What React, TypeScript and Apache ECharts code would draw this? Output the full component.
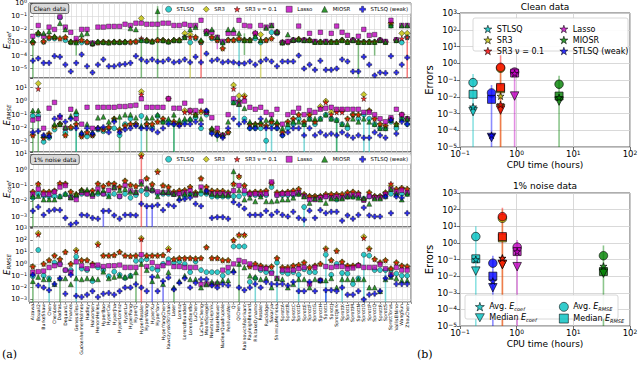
import React, { useEffect, useRef } from 'react';
import * as echarts from 'echarts';

const FONT = 'DejaVu Sans';

const systems = [
  'Aizawa', 'Bouali2', 'BurkeShaw', 'Chen', 'ChenLee', 'Dadras', 'DequanLi', 'Finance', 'GenesioTesi',
  'GuckenheimerHolmes', 'Hadley', 'Halvorsen', 'HenonHeiles', 'HyperBao', 'HyperCai', 'HyperJha',
  'HyperLorenz', 'HyperLu', 'HyperPang', 'HyperQi', 'HyperRossler', 'HyperWang', 'HyperXu', 'HyperYan',
  'HyperYangChen', 'KawczynskiStrizhak', 'Laser', 'Lorenz', 'LorenzBounded', 'LorenzStenflo', 'LuChen',
  'LuChenCheng', 'MooreSpiegel', 'NewtonLiepnik', 'NoseHoover', 'NuclearQuadrupole', 'PehlivanWei', 'Qi',
  'QiChen', 'RabinovichFabrikant', 'RayleighBenard', 'RikitakeDynamo', 'Rossler', 'Rucklidge', 'Sakarya',
  'ShimizuMorioka', 'SprottA', 'SprottB', 'SprottC', 'SprottD', 'SprottE', 'SprottF', 'SprottG', 'SprottH',
  'SprottI', 'SprottJ', 'SprottJerk', 'SprottK', 'SprottL', 'SprottM', 'SprottN', 'SprottO', 'SprottP',
  'SprottQ', 'SprottR', 'SprottS', 'SprottTorus', 'VallisElNino', 'WangSun', 'ZhouChen',
];

const methods = ['STLSQ', 'SR3', 'SR3 ν = 0.1', 'Lasso', 'MIOSR', 'STLSQ (weak)'];

// columns: STLSQ, SR3, SR3 nu=0.1, Lasso, MIOSR, STLSQ (weak)
const cleanCoef = [
  [1e-3, 1e-3, 1e-3, 3e-3, 1.5e-3, 4e-5], [4e-3, 5e-3, 5e-3, 0.02, 6e-3, 6e-5], [1.1e-3, 1.2e-3, 1.2e-3, 3e-3, 5e-3, 2.7e-5],
  [2e-3, 2.5e-3, 2.5e-3, 0.015, 7e-3, 2.7e-5], [2e-3, 2.5e-3, 2.5e-3, 0.01, 3e-3, 9e-5], [0.08, 2e-3, 2e-3, 0.09, 0.03, 8e-5],
  [1.5e-3, 2.5e-3, 2.5e-3, 0.015, 0.01, 2e-5], [1e-3, 1.1e-3, 1.1e-3, 6e-3, 1.2e-3, 6e-6], [1.1e-3, 1.2e-3, 1.2e-3, 2e-3, 1e-3, 2.7e-5],
  [1e-3, 1.5e-3, 1.5e-3, 0.01, 4e-3, 1.2e-4], [1e-3, 1.1e-3, 1.1e-3, 0.01, 5e-3, 1.5e-5], [8e-4, 8e-4, 8e-4, 9e-4, 9e-4, 5e-6],
  [1e-3, 1e-3, 1e-3, 0.015, 1.2e-3, 2e-5], [1e-3, 1.1e-3, 1.1e-3, 0.015, 1.1e-3, 5e-5], [1e-3, 1e-3, 1e-3, 0.017, 1e-3, 1.5e-5],
  [1e-3, 1.1e-3, 1.1e-3, 0.017, 1.2e-3, 1.5e-5], [1e-3, 1.1e-3, 1.1e-3, 0.017, 1.1e-3, 2e-5], [1e-3, 1.1e-3, 1.1e-3, 0.025, 1.2e-3, 2.2e-5],
  [1e-3, 1.1e-3, 1.1e-3, 0.02, 0.012, 2.7e-5], [1.1e-3, 1.2e-3, 1.2e-3, 0.03, 0.01, 9e-5], [1.5e-3, 0.07, 2e-3, 0.03, 1.5e-3, 5e-5],
  [1.3e-3, 1.5e-3, 1.5e-3, 0.025, 1.5e-3, 3.5e-5], [1.1e-3, 1.2e-3, 1.2e-3, 0.025, 1.2e-3, 5e-5], [1.5e-3, 1.5e-3, 1.5e-3, 0.025, 0.25, 3.5e-5],
  [1.4e-3, 1.5e-3, 1.5e-3, 0.03, 1.5e-3, 3.5e-5], [1.1e-3, 1.2e-3, 1.2e-3, 0.03, 1.2e-3, 5e-5], [1.4e-3, 1.5e-3, 1.5e-3, 0.02, 1.6e-3, 3e-5],
  [1.4e-3, 1.5e-3, 1.5e-3, 0.02, 1.5e-3, 3.5e-5], [2.5e-3, 5e-3, 2.5e-3, 0.025, 2.5e-3, 5e-5], [1e-3, 4e-3, 2.5e-3, 0.02, 0.01, 3e-5],
  [2e-3, 2.5e-3, 2.5e-3, 0.02, 0.015, 8e-5], [1e-3, 1.2e-3, 1.1e-3, 0.05, 1.5e-3, 3e-5], [5e-3, 7e-3, 7e-3, 7e-3, 5e-3, 1.4e-4],
  [2e-3, 2.5e-3, 2.5e-3, 6e-3, 0.01, 4e-5], [1.5e-3, 1.5e-3, 1.5e-3, 2.5e-3, 2.5e-3, 5e-5], [1e-3, 3.5e-4, 3.5e-4, 1.2e-3, 1e-3, 3e-5],
  [1.5e-3, 1.5e-3, 1.5e-3, 5e-3, 0.01, 3.5e-5], [1.5e-3, 1.5e-3, 1.5e-3, 5e-3, 0.01, 3e-5], [1.5e-3, 2e-3, 2e-3, 0.05, 5e-3, 2.5e-5],
  [1.5e-3, 1.5e-3, 1.5e-3, 0.02, 1.5e-3, 2.5e-5], [1.5e-3, 1.5e-3, 1.5e-3, 0.018, 1.5e-3, 3.5e-5], [2e-3, 5e-3, 5e-3, 5e-3, 3e-3, 2e-5],
  [1e-3, 4e-3, 1.5e-3, 0.02, 1.5e-3, 3.5e-5], [1.5e-3, 1.5e-3, 1.5e-3, 0.015, 0.013, 5e-5], [6e-3, 2e-3, 2e-3, 0.02, 0.02, 3.5e-5],
  [5e-3, 6e-3, 6e-3, 6e-3, 7e-3, 1.5e-5], [1e-3, 1e-3, 1e-3, 1e-3, 1e-3, 3.5e-5], [1e-3, 1.1e-3, 1.1e-3, 1.2e-3, 4e-3, 3.5e-5],
  [1.5e-3, 1.5e-3, 1.5e-3, 1.5e-3, 1.6e-3, 3.5e-5], [1.5e-3, 1.8e-3, 1.8e-3, 0.018, 1.8e-3, 1e-4], [1.5e-3, 1.5e-3, 1.5e-3, 1.5e-3, 1.5e-3, 1e-5],
  [1.5e-3, 1.5e-3, 1.5e-3, 5e-3, 1.5e-3, 2e-5], [1.1e-3, 1.1e-3, 1.1e-3, 1.2e-3, 1.1e-3, 8e-6], [1.1e-3, 1.1e-3, 1.1e-3, 6e-3, 1.1e-3, 4e-5],
  [1.1e-3, 1.1e-3, 1.1e-3, 1.2e-3, 1.1e-3, 8e-6], [1.1e-3, 1.1e-3, 1.1e-3, 5e-3, 1.1e-3, 8e-6], [1.1e-3, 1.1e-3, 1.1e-3, 0.018, 1.1e-3, 1e-5],
  [1.5e-3, 1.5e-3, 1.5e-3, 6e-3, 1.5e-3, 5e-5], [1.1e-3, 1.1e-3, 1.1e-3, 3.5e-3, 1.1e-3, 3.5e-5], [1.5e-3, 1.5e-3, 1.5e-3, 1.5e-3, 1.5e-3, 6e-6],
  [1.1e-3, 1.1e-3, 1.1e-3, 3e-3, 1.1e-3, 6e-6], [1.1e-3, 1.1e-3, 1.1e-3, 0.01, 1.1e-3, 8e-5], [1.1e-3, 1.1e-3, 1.1e-3, 3.5e-3, 1.1e-3, 2e-5],
  [1.1e-3, 1.1e-3, 1.1e-3, 4e-3, 1.1e-3, 3e-6], [1.5e-3, 1.5e-3, 1.5e-3, 1.5e-3, 1.5e-3, 5e-6], [1.1e-3, 1.1e-3, 1.1e-3, 1.2e-3, 1.1e-3, 4.5e-6],
  [0.02, 0.03, 0.03, 0.05, 0.02, 9e-5], [1.5e-3, 1.5e-3, 1.5e-3, 1.6e-3, 1.5e-3, 5e-6], [1e-3, 5e-3, 2e-3, 0.02, 0.02, 2e-5],
  [2.5e-3, 5e-3, 2.5e-3, 0.02, 0.02, 7e-5],
];

const cleanRmse = [
  [0.08, 3e-3, 3e-3, 0.04, 0.2, 5e-3], [0.08, 20, 8, 0.05, 0.2, 6e-3], [1e-3, 2e-3, 2e-3, 0.01, 3e-3, 3e-3],
  [2e-3, 4e-3, 4e-3, 0.3, 3e-3, 2.5e-3], [8e-3, 0.012, 0.015, 0.8, 0.02, 0.05], [0.02, 0.02, 0.02, 0.06, 0.02, 0.08],
  [5e-3, 3e-3, 3e-3, 0.01, 0.012, 0.03], [0.01, 0.012, 0.012, 0.25, 0.08, 0.05], [0.1, 0.02, 0.02, 0.05, 0.18, 0.01],
  [3e-3, 2.5e-3, 2.5e-3, 0.02, 5e-3, 4e-3], [2.5e-3, 5e-3, 5e-3, 0.35, 0.02, 0.01], [3e-3, 3e-3, 3e-3, 0.01, 5e-3, 4e-3],
  [8e-3, 0.01, 0.01, 0.35, 0.06, 0.01], [6e-3, 8e-3, 8e-3, 0.35, 0.07, 0.012], [0.01, 0.012, 0.012, 0.35, 0.03, 5e-3],
  [0.01, 0.05, 0.05, 0.35, 0.05, 0.03], [3e-3, 8e-3, 8e-3, 0.4, 0.07, 5e-3], [0.02, 0.015, 0.015, 0.4, 0.1, 8e-3],
  [0.05, 0.02, 0.02, 0.45, 0.1, 0.01], [0.02, 0.02, 0.02, 0.5, 0.06, 0.015], [0.08, 5, 3, 1.5, 0.015, 0.01],
  [0.02, 0.02, 0.02, 0.35, 0.06, 0.01], [0.012, 0.02, 0.02, 0.35, 0.06, 8e-3], [0.08, 0.03, 0.03, 0.35, 0.1, 5e-3],
  [0.03, 0.05, 0.05, 0.35, 0.03, 0.01], [0.03, 1.5, 1.5, 1.5, 0.05, 0.02], [0.02, 0.03, 0.03, 0.3, 0.1, 0.02],
  [0.02, 0.02, 0.02, 0.3, 0.04, 0.015], [0.03, 0.2, 0.15, 0.7, 0.05, 0.02], [0.04, 0.2, 0.15, 0.2, 0.05, 0.02],
  [0.06, 0.1, 0.1, 0.2, 0.1, 0.03], [0.01, 0.15, 0.2, 1.0, 0.05, 0.02], [0.1, 0.15, 0.15, 0.15, 0.2, 0.2],
  [5e-3, 8e-3, 8e-3, 0.06, 0.01, 4e-3], [3e-3, 5e-3, 5e-3, 0.01, 4e-3, 3e-3], [3e-3, 3e-3, 3e-3, 3e-3, 3e-3, 2e-3],
  [5e-3, 5e-3, 5e-3, 0.1, 0.03, 0.01], [0.8, 15, 8, 1.5, 0.8, 0.05], [1.0, 2.5, 1.0, 0.6, 0.6, 0.02],
  [0.05, 2.5, 2.0, 1.0, 0.3, 0.03], [0.01, 0.02, 0.02, 0.35, 0.03, 0.01], [0.01, 0.02, 0.02, 0.25, 0.02, 0.01],
  [0.01, 0.02, 0.02, 0.35, 0.03, 0.05], [1.2e-3, 0.015, 0.015, 0.15, 0.04, 0.01], [0.02, 0.03, 0.03, 0.1, 0.05, 0.01],
  [0.01, 0.02, 0.02, 0.25, 0.03, 0.01], [3e-3, 5e-3, 5e-3, 0.02, 0.01, 3e-3], [0.01, 0.03, 0.03, 0.1, 0.02, 5e-3],
  [0.02, 0.05, 0.05, 0.15, 0.03, 0.01], [0.05, 0.1, 0.1, 0.3, 0.03, 0.01], [0.02, 0.03, 0.03, 0.1, 0.02, 3e-3],
  [0.05, 0.1, 0.1, 0.2, 0.05, 0.01], [0.02, 0.03, 0.03, 0.15, 0.05, 3e-3], [0.05, 0.4, 0.3, 0.25, 0.05, 5e-3],
  [0.1, 1.0, 0.8, 0.3, 0.1, 3e-3], [0.05, 0.15, 0.1, 0.35, 0.05, 4e-3], [0.04, 0.2, 0.15, 0.25, 0.04, 3e-3],
  [0.02, 0.2, 0.15, 0.25, 0.02, 5e-3], [0.01, 0.05, 0.05, 0.25, 0.02, 3e-3], [0.1, 0.1, 0.1, 0.25, 0.05, 2e-3],
  [0.05, 0.1, 0.1, 0.25, 0.03, 3e-3], [0.1, 3, 1.5, 0.15, 0.05, 2e-3], [0.05, 0.2, 0.2, 0.15, 0.03, 2e-3],
  [0.02, 0.05, 0.05, 0.1, 0.02, 5e-3], [0.01, 0.02, 0.02, 0.05, 0.01, 3e-3], [0.01, 0.015, 0.015, 0.03, 0.01, 2e-3],
  [0.03, 0.05, 0.05, 0.06, 0.04, 0.04], [0.01, 0.02, 0.02, 0.25, 0.02, 4e-3], [0.05, 0.1, 0.1, 0.1, 0.05, 0.03],
  [0.02, 0.05, 0.05, 0.05, 0.05, 0.02],
];

const noisyCoef = [
  [0.017, 0.04, 0.04, 0.028, 0.021, 2.5e-3], [0.03, 0.12, 0.13, 0.06, 0.022, 4.4e-3], [0.022, 0.04, 0.04, 0.028, 0.013, 1.4e-3],
  [0.02, 0.04, 0.04, 0.028, 0.013, 2.5e-3], [0.021, 0.047, 0.047, 0.04, 0.013, 3e-3], [0.02, 0.13, 0.14, 0.08, 0.021, 2.8e-3],
  [0.028, 0.13, 0.13, 0.1, 0.03, 9e-4], [0.02, 0.04, 0.04, 0.017, 0.018, 3.5e-4], [0.02, 0.028, 0.028, 0.013, 0.028, 4.4e-4],
  [0.03, 0.05, 0.05, 0.036, 0.05, 1.4e-3], [0.03, 0.04, 0.04, 0.03, 0.055, 1.3e-3], [0.025, 0.047, 0.047, 0.021, 0.03, 9e-4],
  [0.03, 0.13, 0.13, 0.06, 0.04, 8e-4], [0.03, 0.09, 0.09, 0.03, 0.05, 2.5e-3], [0.025, 0.13, 0.13, 0.05, 0.021, 2.5e-3],
  [0.03, 0.13, 0.13, 0.07, 0.08, 1.3e-3], [0.02, 0.08, 0.08, 0.021, 0.05, 8e-4], [0.03, 0.2, 0.2, 0.1, 0.06, 1.4e-3],
  [0.017, 0.11, 0.11, 0.047, 0.04, 1.4e-3], [0.025, 0.09, 0.09, 0.036, 0.04, 1.3e-3], [0.047, 9, 7, 0.17, 0.13, 7e-3],
  [0.028, 0.28, 0.28, 0.06, 0.07, 5e-3], [0.047, 0.12, 0.12, 0.05, 0.06, 5e-3], [0.03, 0.8, 0.7, 0.04, 0.021, 6e-3],
  [0.03, 0.1, 0.1, 0.036, 0.04, 2.8e-3], [0.03, 0.08, 0.08, 0.036, 0.04, 6e-3], [0.03, 0.04, 0.04, 0.028, 0.03, 5e-3],
  [0.03, 0.047, 0.047, 0.03, 0.017, 0.012], [0.021, 0.05, 0.05, 0.036, 0.03, 0.014], [0.03, 0.08, 0.08, 0.047, 0.03, 0.017],
  [0.03, 0.036, 0.036, 0.025, 0.03, 7e-3], [0.03, 0.28, 0.28, 0.08, 0.05, 5e-3], [0.03, 0.08, 0.08, 0.04, 0.04, 0.045],
  [0.02, 0.047, 0.047, 0.03, 0.03, 9e-4], [0.02, 0.045, 0.045, 0.03, 0.025, 1e-3], [0.02, 0.045, 0.045, 0.03, 0.025, 1e-3],
  [0.02, 0.036, 0.036, 0.028, 0.025, 8e-4], [0.021, 0.12, 0.13, 0.047, 0.8, 9e-3], [0.021, 0.35, 0.4, 0.1, 0.05, 6e-3],
  [0.03, 0.1, 0.1, 0.047, 0.013, 3.5e-3], [0.03, 0.036, 0.036, 0.028, 0.017, 1.4e-3], [0.025, 0.04, 0.04, 0.03, 0.01, 1.4e-3],
  [0.025, 0.04, 0.04, 0.028, 0.02, 1.4e-3], [0.025, 0.047, 0.047, 0.03, 0.01, 2.5e-3], [0.08, 0.14, 0.15, 0.17, 0.01, 1.4e-3],
  [0.025, 0.036, 0.036, 0.025, 0.011, 2.2e-3], [0.025, 0.036, 0.036, 0.03, 0.013, 1.4e-3], [0.025, 0.04, 0.04, 0.03, 0.013, 1.1e-3],
  [0.025, 0.047, 0.047, 0.03, 0.017, 2.2e-3], [0.03, 0.06, 0.06, 0.036, 0.03, 9e-4], [4.4e-3, 0.028, 0.028, 0.021, 0.02, 7e-4],
  [0.02, 0.021, 0.021, 0.013, 8e-3, 2.6e-3], [0.02, 0.021, 0.021, 0.013, 0.015, 9e-4], [0.02, 0.021, 0.021, 0.017, 0.013, 2.8e-3],
  [0.02, 0.028, 0.028, 0.02, 8e-3, 1.8e-3], [0.02, 0.028, 0.028, 0.017, 0.015, 2.2e-3], [0.013, 0.028, 0.028, 0.02, 0.015, 2.2e-3],
  [0.02, 0.028, 0.028, 0.017, 0.015, 6e-4], [0.02, 0.036, 0.036, 0.021, 0.02, 1.3e-3], [0.02, 0.04, 0.04, 0.025, 0.02, 8e-4],
  [0.02, 0.033, 0.033, 0.025, 0.017, 1.4e-3], [0.015, 0.013, 0.013, 0.012, 0.015, 4e-3], [0.02, 0.036, 0.036, 0.021, 7e-3, 1.3e-3],
  [0.02, 0.021, 0.021, 0.017, 0.015, 1.1e-3], [0.02, 0.021, 0.021, 0.017, 0.015, 1.1e-3], [0.03, 0.036, 0.036, 0.028, 0.021, 0.02],
  [0.03, 0.1, 0.13, 0.06, 0.06, 1.8e-3], [0.03, 0.06, 0.06, 0.04, 0.03, 0.02], [0.03, 0.07, 0.07, 0.05, 0.013, 0.017],
  [0.03, 0.06, 0.06, 0.036, 0.03, 1.8e-3],
];

const noisyRmse = [
  [0.09, 0.6, 0.6, 0.2, 0.035, 0.12], [15, 400, 300, 0.22, 0.08, 0.015], [0.1, 1.0, 1.0, 0.25, 0.05, 0.01],
  [0.06, 2, 2, 0.5, 0.05, 6e-3], [1.3, 5, 5, 0.7, 0.02, 0.02], [1.0, 2.5, 2.5, 0.9, 0.06, 0.06],
  [0.3, 10, 10, 0.3, 0.06, 3e-3], [0.3, 1.0, 1.0, 0.2, 0.019, 0.12], [4, 15, 12, 1.5, 0.06, 2e-3],
  [0.4, 2, 2, 0.7, 0.05, 1.6e-3], [0.3, 2, 2, 0.4, 0.06, 2.5e-3], [0.035, 1.0, 1.0, 0.7, 0.06, 5e-3],
  [0.5, 50, 40, 0.8, 0.05, 1.6e-3], [0.3, 5, 5, 0.6, 0.22, 3e-3], [0.09, 5, 5, 0.7, 0.06, 3.5e-3],
  [0.22, 5.5, 5.5, 0.7, 0.08, 2.5e-3], [0.12, 10, 10, 0.8, 0.1, 5e-3], [0.063, 5, 5, 0.5, 0.08, 0.01],
  [0.1, 4.5, 4.5, 0.5, 0.1, 0.01], [1.8, 5, 5, 0.5, 0.2, 0.019], [2, 150, 120, 6, 1.0, 0.01],
  [2.5, 5, 5, 0.6, 0.3, 5e-3], [0.4, 5, 5, 1.3, 0.035, 0.08], [0.3, 5, 5, 0.6, 0.1, 5e-3],
  [1.0, 5.5, 5.5, 0.7, 0.02, 0.035], [2.5, 20, 15, 1.2, 0.2, 0.07], [1.3, 2.5, 2.5, 0.6, 0.01, 7e-3],
  [1.6, 3, 3, 0.6, 0.035, 0.025], [1.0, 3, 3, 0.5, 0.1, 0.06], [0.2, 3, 3, 0.5, 0.05, 0.01],
  [1.6, 2.8, 2.8, 0.5, 0.05, 0.025], [0.3, 3, 3, 0.019, 0.01, 0.05], [0.2, 25, 25, 0.02, 0.019, 0.05],
  [0.2, 3, 3, 0.02, 0.03, 0.015], [0.2, 3, 3, 0.02, 0.03, 0.01], [0.1, 2, 2, 0.3, 0.04, 0.019],
  [0.2, 2, 2, 0.5, 0.04, 0.015], [30, 100, 100, 1.0, 0.3, 0.2], [30, 250, 300, 2, 1, 0.01],
  [30, 250, 300, 1.5, 0.5, 6e-3], [0.03, 0.6, 0.6, 1.0, 0.1, 0.01], [0.06, 1.0, 1.0, 0.5, 0.08, 0.02],
  [0.3, 0.7, 0.7, 0.4, 0.05, 0.01], [0.2, 0.5, 0.5, 0.4, 0.06, 0.03], [0.2, 0.6, 0.6, 0.16, 0.01, 0.02],
  [1.3, 3, 3, 0.06, 0.06, 0.019], [0.2, 0.5, 0.5, 0.3, 0.05, 0.02], [0.15, 0.5, 0.5, 0.3, 0.01, 0.015],
  [0.2, 0.7, 0.7, 0.3, 0.02, 0.03], [0.12, 0.8, 0.8, 0.4, 0.05, 5e-3], [0.35, 1.3, 1.3, 0.5, 0.05, 5e-3],
  [0.2, 0.5, 0.5, 0.02, 0.01, 0.03], [0.2, 0.7, 0.7, 0.5, 0.05, 5e-3], [0.04, 1.0, 1.0, 0.04, 0.04, 0.04],
  [6, 20, 18, 0.6, 0.04, 6e-3], [0.12, 2, 2, 0.5, 0.06, 6e-3], [1.0, 13, 12, 0.6, 0.01, 5e-3],
  [0.17, 1.5, 1.5, 0.6, 0.05, 0.01], [0.15, 0.7, 0.7, 0.4, 0.05, 2.5e-3], [0.02, 0.7, 0.7, 0.45, 0.05, 2.5e-3],
  [0.06, 0.8, 0.8, 0.7, 0.05, 5e-3], [6, 200, 150, 0.5, 0.05, 1e-3], [5, 20, 18, 0.5, 0.01, 2.5e-3],
  [0.3, 2.5, 2.5, 0.5, 0.01, 3e-3], [0.3, 1.3, 1.3, 0.9, 5e-3, 5e-3], [0.3, 2, 2, 0.4, 0.05, 0.06],
  [0.3, 0.4, 0.4, 0.12, 0.08, 0.1], [0.15, 1.3, 1.3, 0.5, 0.06, 0.02], [0.1, 0.7, 0.7, 0.3, 0.04, 0.02],
  [0.1, 0.6, 0.6, 0.3, 0.04, 0.02],
];

// error bars: [system, method index, low (0 = down to the axis bottom), high]
const cleanCoefBars = [
  ['Aizawa', 4, 0, 1.5e-3], ['GenesioTesi', 4, 1e-4, 1e-3], ['HyperRossler', 4, 0, 1.5e-3], ['HyperYan', 4, 0, 0.6],
  ['LorenzStenflo', 1, 0, 4e-3], ['LuChenCheng', 2, 0, 1.1e-3], ['NoseHoover', 3, 3e-4, 2.5e-3], ['QiChen', 0, 1e-5, 1.5e-3],
  ['RabinovichFabrikant', 4, 1.1e-4, 5e-3], ['Rossler', 1, 0, 4e-3], ['SprottN', 4, 0, 1.1e-3], ['SprottQ', 4, 1e-4, 1.5e-3],
  ['ZhouChen', 2, 0, 2.5e-3],
];
const cleanRmseBars = [
  ['Aizawa', 4, 0, 0.2], ['Bouali2', 4, 0, 0.2], ['GenesioTesi', 4, 0, 0.18], ['GenesioTesi', 0, 0, 0.1],
  ['HyperLorenz', 4, 0, 0.07], ['HyperRossler', 0, 0, 0.08], ['HyperWang', 4, 0, 0.06], ['Laser', 0, 0, 0.02],
  ['Laser', 4, 0, 0.1], ['NoseHoover', 4, 1e-3, 4e-3], ['QiChen', 0, 0.01, 1.0], ['Rucklidge', 0, 0, 0.015],
  ['Sakarya', 0, 0, 0.02], ['SprottE', 0, 0, 0.02], ['SprottJerk', 0, 0, 0.04], ['SprottJerk', 4, 0, 0.04],
  ['SprottO', 0, 0, 0.1], ['SprottP', 0, 0, 0.05],
];
const noisyCoefBars = [
  ['Aizawa', 4, 0, 0.021], ['Finance', 5, 0, 3.5e-4], ['HyperBao', 5, 0, 2.5e-3], ['HyperRossler', 2, 0, 7],
  ['HyperWang', 5, 0, 5e-3], ['HyperXu', 5, 0, 5e-3], ['Qi', 4, 0.01, 0.8], ['SprottE', 0, 0, 4.4e-3],
];
const noisyRmseBars = [
  ['Aizawa', 4, 0, 0.035], ['Chen', 0, 0, 0.06], ['Dadras', 4, 0, 0.06], ['GenesioTesi', 0, 0, 4],
  ['HyperQi', 4, 0, 0.2], ['HyperRossler', 2, 0, 120], ['HyperXu', 5, 0, 0.08], ['HyperYangChen', 5, 0, 0.035],
  ['Laser', 4, 0, 0.01], ['QiChen', 4, 0, 1], ['RikitakeDynamo', 0, 0, 0.06], ['ShimizuMorioka', 0, 0, 1.3],
  ['SprottD', 0, 0, 0.12], ['SprottI', 0, 0, 6], ['SprottI', 5, 0, 6e-3], ['SprottK', 0, 0, 0.17],
  ['SprottO', 0, 0, 6], ['SprottS', 0, 0, 0.3],
];

// summary panels, one value per method
const cleanTime = [0.17, 0.52, 0.52, 0.92, 5.6, 0.36];
const cleanAvgCoef = [2.5e-3, 0.011, 3.4e-3, 0.25, 9e-3, 5e-5];
const cleanMedCoef = [1.3e-3, 2e-3, 1.6e-3, 0.011, 5.5e-3, 3.7e-5];
const cleanAvgRmse = [0.07, 0.5, 0.57, 0.3, 0.056, 0.017];
const cleanMedRmse = [0.014, 0.03, 0.036, 0.26, 0.011, 7e-3];
const cleanTop = [0.23, 0.6, 3, 0.35, 0.18, 0.05];

const noisyTime = [0.19, 0.56, 0.56, 1.02, 34, 0.38];
const noisyAvgCoef = [0.1, 0.12, 0.12, 0.3, 0.04, 5e-3];
const noisyMedCoef = [0.02, 0.05, 0.05, 0.037, 0.015, 2e-3];
const noisyAvgRmse = [2.4, 30, 38, 0.56, 0.17, 0.06];
const noisyMedRmse = [0.11, 2, 2.4, 0.3, 0.019, 0.01];
const noisyTop = [10, 100, 130, 1.5, 0.7, 0.17];

const summaryNames = ['Avg. E_coef', 'Median E_coef', 'Avg. E_RMSE', 'Median E_RMSE'];

const COLORS = ['#00bfbf', '#bfbf00', '#ff0000', '#bf00bf', '#008000', '#0000ff'];
const STAR = 'path://M0,-1L0.2245,-0.309L0.951,-0.309L0.363,0.118L0.588,0.809L0,0.382L-0.588,0.809L-0.363,0.118L-0.951,-0.309L-0.2245,-0.309Z';
const PLUS = 'path://M1,0H2V1H3V2H2V3H1V2H0V1H1Z';
const TRI_DOWN = 'path://M0,0L2,0L1,1.8Z';
const SYMS = ['circle', 'diamond', STAR, 'rect', 'triangle', PLUS];
const SIZES = [5, 6, 5.5, 4.5, 5, 5];

const panelExp = [[-5.72, 0.02], [-3.75, 1.7], [-3.62, 1.12], [-3.22, 3.12]];
const panelTop = [3, 78, 152, 227];
const panelHeight = [75, 74, 75, 75];
const panelRows = [cleanCoef, cleanRmse, noisyCoef, noisyRmse];
const panelBars = [cleanCoefBars, cleanRmseBars, noisyCoefBars, noisyRmseBars];
const panelName = ['coef', 'RMSE', 'coef', 'RMSE'];

const powRich = (v: number) => {
  const e = Math.log10(v);
  const r = Math.round(e);
  if (Math.abs(e - r) > 1e-3) return '';
  return '{b|10}{s|' + (r < 0 ? '−' : '') + Math.abs(r) + '}';
};
const labelRich = (big: number, small: number) => ({
  b: { fontSize: big, fontFamily: FONT, color: '#000', lineHeight: big + 1 },
  s: { fontSize: small, fontFamily: FONT, color: '#000', verticalAlign: 'top', lineHeight: small + 0.5 },
});

function barRender(params: any, api: any) {
  const cs = params.coordSys;
  const xv = api.value(0);
  const lo = api.value(1);
  const hi = api.value(2);
  const m = api.value(3);
  const top = api.coord([xv, hi]);
  const bot = api.coord([xv, lo]);
  const yb = Math.min(bot[1], cs.y + cs.height);
  const yt = Math.max(top[1], cs.y);
  return {
    type: 'line',
    shape: { x1: top[0], y1: yb, x2: top[0], y2: yt },
    style: { stroke: COLORS[m], lineWidth: 1.6, opacity: 0.45 },
  };
}

function buildOption() {
  const grid: any[] = [];
  const xAxis: any[] = [];
  const yAxis: any[] = [];
  const series: any[] = [];

  const richName = {
    e: { fontSize: 8.5, fontStyle: 'italic', fontFamily: FONT, color: '#000', lineHeight: 10 },
    s: { fontSize: 5.5, fontStyle: 'italic', fontFamily: FONT, color: '#000', verticalAlign: 'bottom', lineHeight: 6 },
  };

  for (let p = 0; p < 4; p++) {
    grid.push({ left: 29, top: panelTop[p], width: 382, height: panelHeight[p], show: true, borderColor: '#333', borderWidth: 0.8, outerBoundsMode: 'none' });
    xAxis.push({
      type: 'value', gridIndex: p, min: -0.7, max: 69.7, splitNumber: 70,
      axisLine: { show: false },
      axisTick: { show: p === 3, length: 2, lineStyle: { color: '#333', width: 0.5 } },
      axisLabel: {
        show: p === 3, rotate: 90, fontSize: 4.6, margin: 2, color: '#000', fontFamily: FONT,
        formatter: (v: number) => {
          const r = Math.round(v);
          return Math.abs(v - r) < 1e-6 && systems[r] ? systems[r] : '';
        },
      },
      splitLine: { show: true, lineStyle: { color: '#d4d4d4', width: 0.6 } },
    });
    const [lo, hi] = panelExp[p];
    yAxis.push({
      type: 'log', logBase: 10, gridIndex: p, min: Math.pow(10, lo), max: Math.pow(10, hi),
      splitNumber: Math.round(hi - lo),
      axisLine: { show: false },
      axisTick: { show: true, length: 2.5, lineStyle: { color: '#333', width: 0.6 } },
      axisLabel: { margin: 2, formatter: powRich, rich: labelRich(6.8, 4.8) },
      splitLine: { show: true, lineStyle: { color: '#d4d4d4', width: 0.6 } },
      name: '{e|E}{s|' + panelName[p] + '}', nameLocation: 'middle', nameGap: 17.5, nameMoveOverlap: false,
      nameTextStyle: { rich: richName },
    });
    series.push({
      type: 'custom', xAxisIndex: p, yAxisIndex: p, silent: true, z: 2,
      encode: { x: 0, y: 2 },
      data: panelBars[p].map((b: any) => [systems.indexOf(b[0]), b[2] > 0 ? b[2] : 1e-12, b[3], b[1]]),
      renderItem: barRender,
    });
    for (let m = 0; m < 6; m++) {
      series.push({
        type: 'scatter', name: methods[m], xAxisIndex: p, yAxisIndex: p, z: 3 + m,
        symbol: SYMS[m], symbolSize: SIZES[m],
        itemStyle: { color: COLORS[m], borderColor: '#000', borderWidth: 0.5 },
        data: panelRows[p].map((r, i) => [i, r[m]]),
      });
    }
  }

  const sumTimes = [cleanTime, noisyTime];
  const sumVals = [
    [cleanAvgRmse, cleanMedRmse, cleanMedCoef, cleanAvgCoef],
    [noisyAvgRmse, noisyMedRmse, noisyMedCoef, noisyAvgCoef],
  ];
  const sumTops = [cleanTop, noisyTop];
  const sumSyms = ['circle', 'rect', TRI_DOWN, STAR];
  const sumSizes = [8.5, 8, 8.5, 7];
  const rTop = [13, 193];
  const rHeight = [134, 133];
  for (let k = 0; k < 2; k++) {
    const gi = 4 + k;
    grid.push({ left: 460, top: rTop[k], width: 170, height: rHeight[k], show: true, borderColor: '#333', borderWidth: 0.8, outerBoundsMode: 'none' });
    xAxis.push({
      type: 'log', logBase: 10, gridIndex: gi, min: 0.1, max: 100, splitNumber: 3,
      name: 'CPU time (hours)', nameLocation: 'middle', nameGap: 13.5, nameMoveOverlap: false,
      nameTextStyle: { fontSize: 9, color: '#000', fontFamily: FONT, verticalAlign: 'top' },
      axisLine: { show: false },
      axisTick: { length: 3, lineStyle: { color: '#333', width: 0.7 } },
      axisLabel: { margin: 2.5, formatter: powRich, rich: labelRich(8.5, 6) },
      splitLine: { show: true, lineStyle: { color: '#cfcfcf', width: 0.8 } },
    });
    yAxis.push({
      type: 'log', logBase: 10, gridIndex: gi, min: 1e-5, max: 1e3, splitNumber: 8,
      name: 'Errors', nameLocation: 'middle', nameGap: 26, nameMoveOverlap: false,
      nameTextStyle: { fontSize: 10, color: '#000', fontFamily: FONT },
      axisLine: { show: false },
      axisTick: { length: 3, lineStyle: { color: '#333', width: 0.7 } },
      axisLabel: { margin: 3, formatter: powRich, rich: labelRich(8.5, 6) },
      splitLine: { show: true, lineStyle: { color: '#cfcfcf', width: 0.8 } },
    });
    series.push({
      type: 'custom', xAxisIndex: gi, yAxisIndex: gi, silent: true, z: 2,
      encode: { x: 0, y: 2 },
      data: methods.map((_, m) => [sumTimes[k][m], 1e-12, sumTops[k][m], m]),
      renderItem: barRender,
    });
    for (let m = 0; m < 6; m++) {
      series.push({
        type: 'scatter', name: methods[m], xAxisIndex: gi, yAxisIndex: gi, z: 3 + m,
        itemStyle: { color: COLORS[m], borderColor: '#000', borderWidth: 0.8 },
        data: sumVals[k].map((arr, j) => ({
          value: [sumTimes[k][m], arr[m]], symbol: sumSyms[j], symbolSize: sumSizes[j],
        })),
      });
    }
  }
  const legendSyms = [STAR, TRI_DOWN, 'circle', 'rect'];
  summaryNames.forEach((n, j) => {
    series.push({
      type: 'scatter', name: n, xAxisIndex: 5, yAxisIndex: 5, data: [],
      symbol: legendSyms[j], itemStyle: { color: '#00bfbf', borderColor: '#000', borderWidth: 0.8 },
    });
  });

  const leftLegend = (top: number) => ({
    right: 229, top, orient: 'horizontal', itemWidth: 6, itemHeight: 6, itemGap: 9,
    backgroundColor: '#fff', borderColor: '#c8c8c8', borderWidth: 0.8, borderRadius: 2, padding: [2, 3],
    z: 10, selectedMode: false,
    textStyle: { fontSize: 5.4, color: '#000', fontFamily: FONT },
    itemStyle: { borderColor: '#000', borderWidth: 0.5 },
    data: methods.map((n, m) => ({ name: n, icon: SYMS[m] })),
  });
  const starLegend = (left: number, names: string[]) => ({
    left, top: 19.5, orient: 'vertical', itemWidth: 8, itemHeight: 8, itemGap: 2, z: 10, selectedMode: false,
    textStyle: { fontSize: 8, color: '#000', fontFamily: FONT, lineHeight: 9 },
    itemStyle: { borderColor: '#000', borderWidth: 0.7 },
    data: names.map((n) => ({ name: n, icon: STAR })),
  });
  const sumRich = {
    n: { fontSize: 8, color: '#000', fontFamily: FONT, lineHeight: 9 },
    e: { fontSize: 8, fontStyle: 'italic', color: '#000', fontFamily: FONT, lineHeight: 9 },
    s: { fontSize: 5, fontStyle: 'italic', color: '#000', fontFamily: FONT, verticalAlign: 'bottom', lineHeight: 6 },
  };
  const sumLegend = (left: number, idx: number[]) => ({
    left, top: 297, orient: 'vertical', itemWidth: 9, itemHeight: 9, itemGap: 2, z: 10, selectedMode: false,
    textStyle: { fontSize: 8, color: '#000', fontFamily: FONT, lineHeight: 9, rich: sumRich },
    itemStyle: { borderColor: '#000', borderWidth: 0.7 },
    formatter: (name: string) => {
      const parts = name.split(' E_');
      return '{n|' + parts[0] + ' }{e|E}{s|' + parts[1] + '}';
    },
    data: idx.map((j) => ({ name: summaryNames[j], icon: legendSyms[j] })),
  });

  const boxText = (x: number, y: number, text: string) => ({
    type: 'text', x, y, z: 10,
    style: {
      text, fontSize: 6, fontFamily: FONT, fill: '#000', backgroundColor: '#d9d9d9',
      borderColor: '#444', borderWidth: 0.8, borderRadius: 1.5, padding: [1.5, 2.5],
      align: 'left', verticalAlign: 'top',
    },
  });
  const plainText = (x: number, y: number, text: string, size: number, family: string, align: string) => ({
    type: 'text', x, y, z: 10,
    style: { text, fontSize: size, fontFamily: family, fill: '#000', align, textAlign: align, verticalAlign: 'top', textVerticalAlign: 'top' },
  });

  return {
    animation: false,
    backgroundColor: '#fff',
    grid, xAxis, yAxis, series,
    legend: [
      leftLegend(4),
      leftLegend(154),
      starLegend(478.5, methods.slice(0, 3)),
      starLegend(554.5, methods.slice(3)),
      sumLegend(470, [0, 1]),
      sumLegend(554, [2, 3]),
    ],
    graphic: [
      boxText(31, 4, 'Clean data'),
      boxText(31, 155, '1% noise data'),
      plainText(545, 2, 'Clean data', 9, FONT, 'center'),
      plainText(545, 181, '1% noise data', 9, FONT, 'center'),
      plainText(2, 349, '(a)', 11, 'DejaVu Serif', 'left'),
      plainText(417, 349, '(b)', 11, 'DejaVu Serif', 'left'),
      {
        type: 'rect', z: 9, shape: { x: 473, y: 18, width: 155, height: 33, r: 2 },
        style: { fill: '#fff', stroke: '#c8c8c8', lineWidth: 0.8, opacity: 0.9 },
      },
      {
        type: 'rect', z: 9, shape: { x: 465, y: 295, width: 153, height: 24, r: 2 },
        style: { fill: '#fff', stroke: '#c8c8c8', lineWidth: 0.8, opacity: 0.9 },
      },
    ],
  };
}

export default function App() {
  const ref = useRef<HTMLDivElement>(null);
  useEffect(() => {
    const chart = echarts.init(ref.current as HTMLDivElement, null, { renderer: 'svg' });
    chart.setOption(buildOption() as any);
    return () => chart.dispose();
  }, []);
  return <div ref={ref} style={{ position: 'absolute', left: 0, top: 0, width: 640, height: 370 }} />;
}
